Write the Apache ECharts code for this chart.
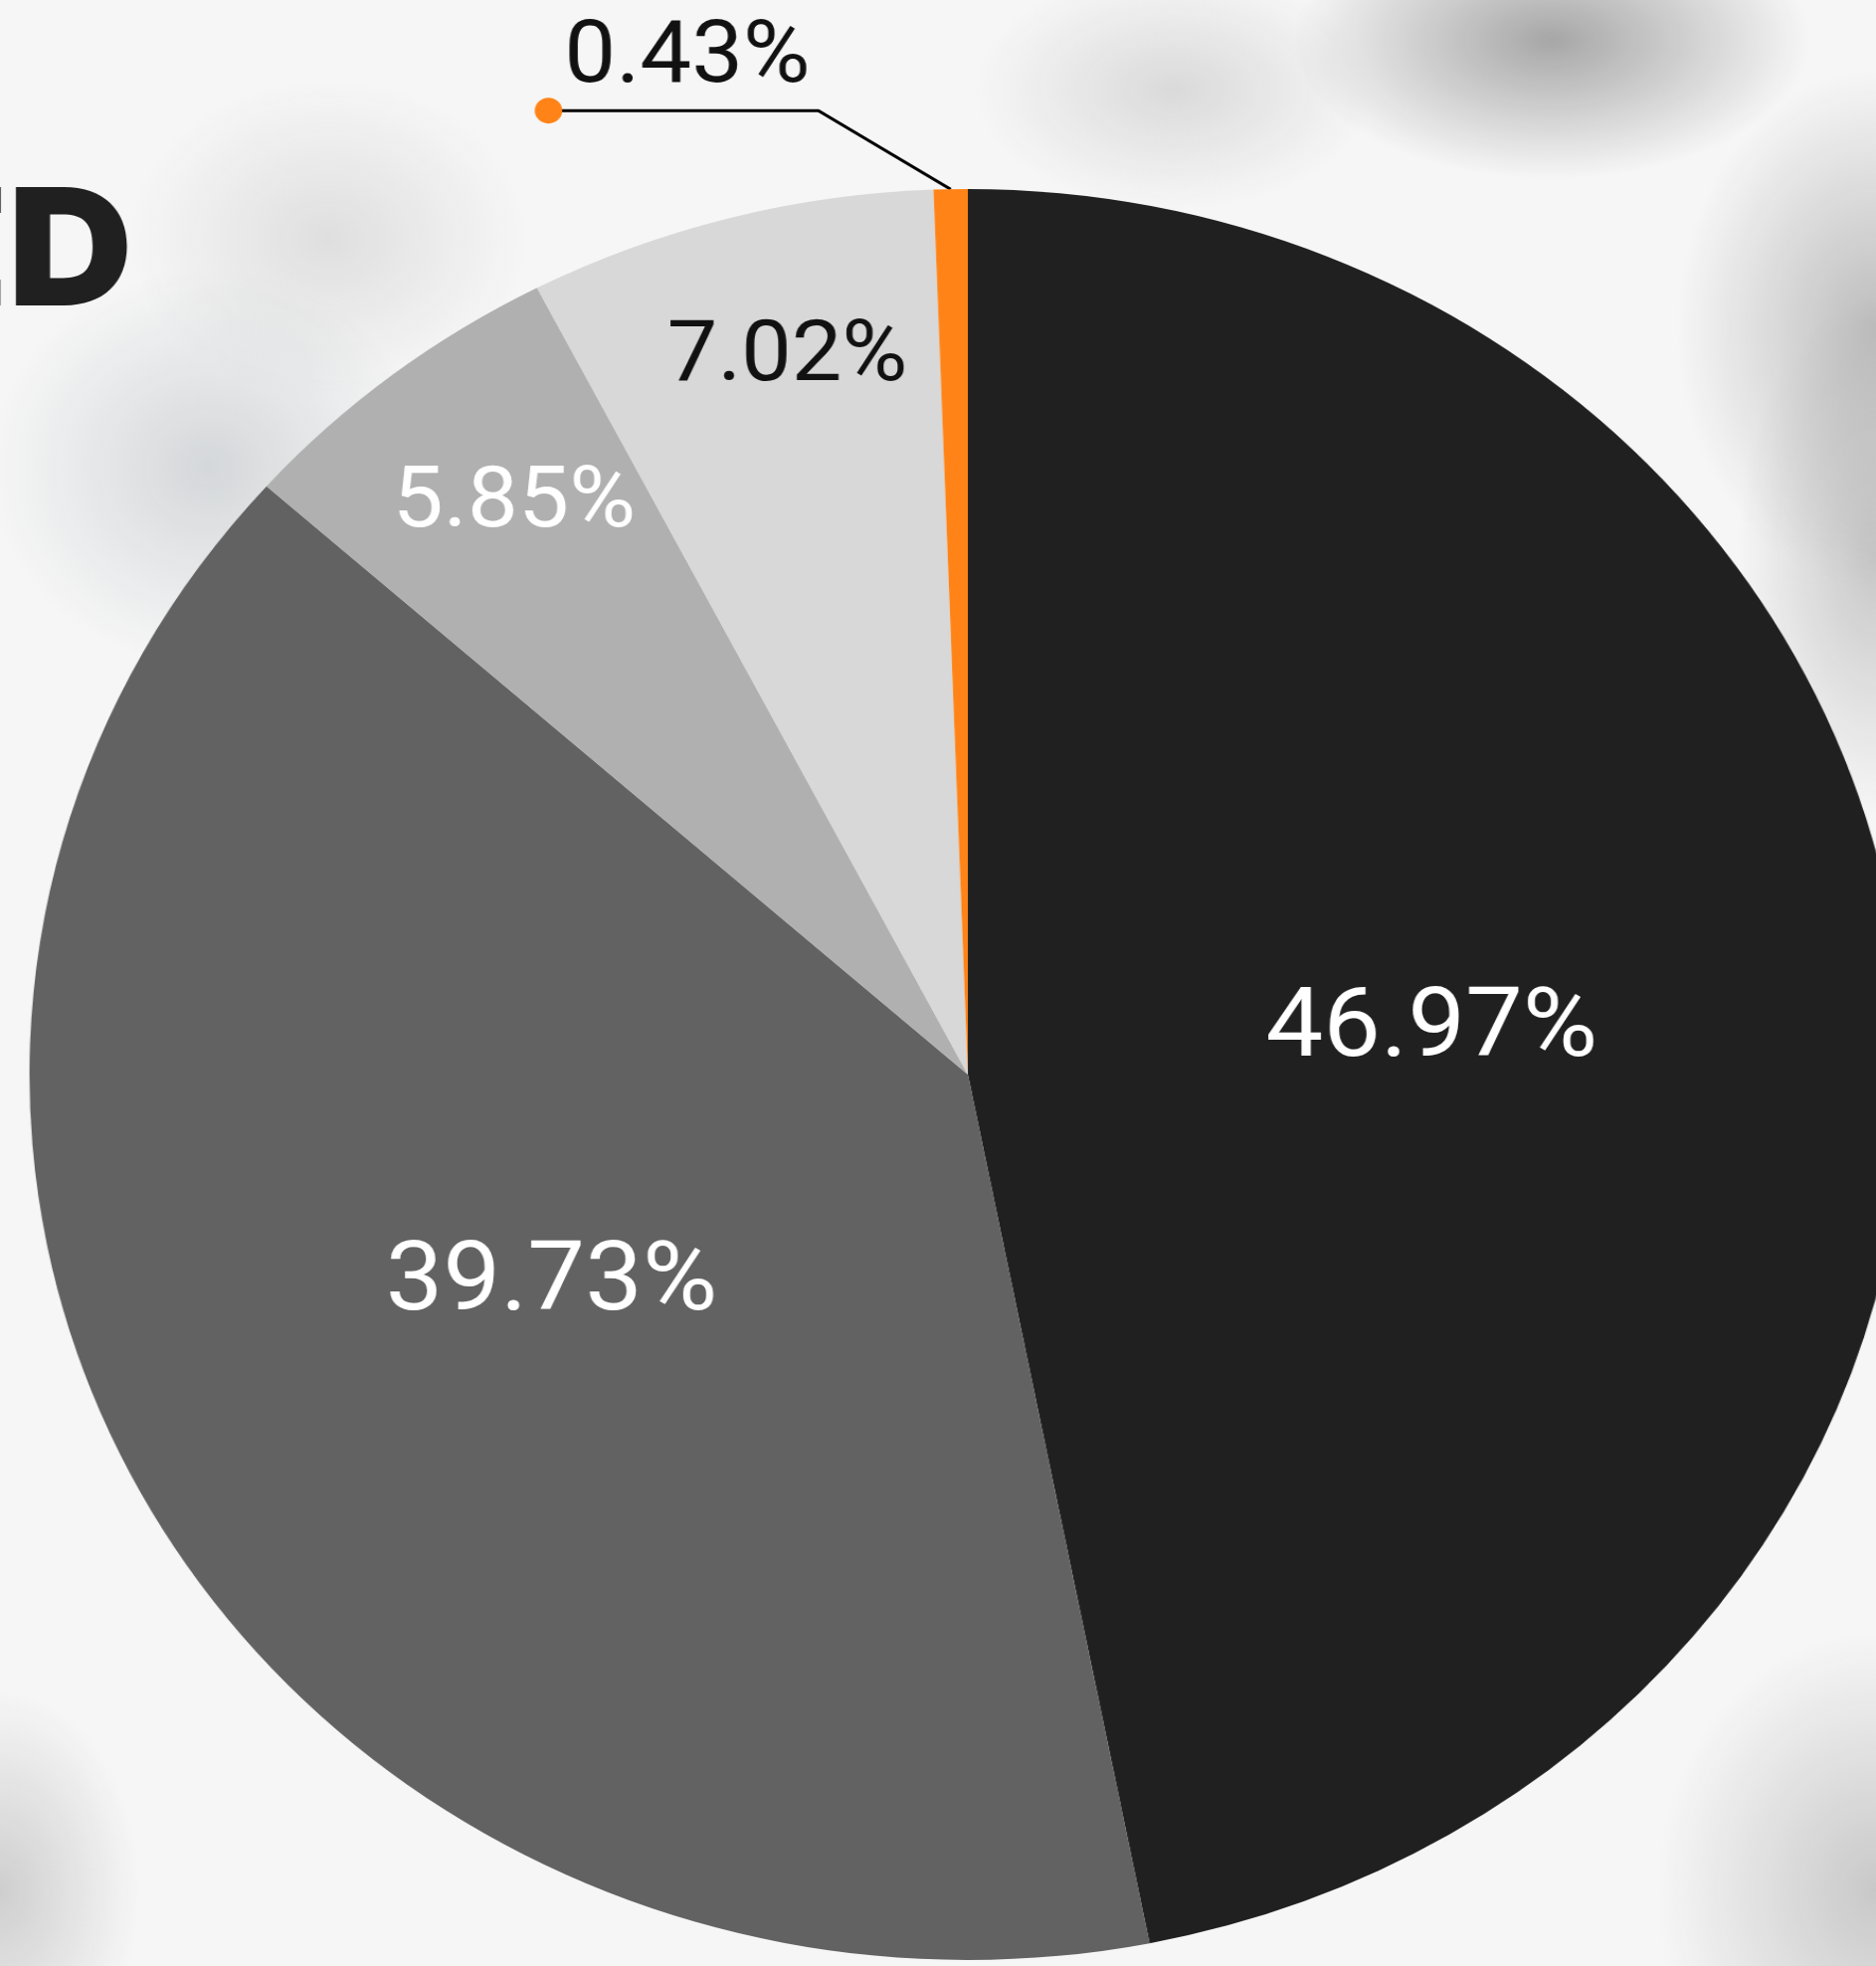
<!DOCTYPE html>
<html>
<head>
<meta charset="utf-8">
<script src="https://cdn.jsdelivr.net/npm/echarts@6/dist/echarts.min.js"></script>
<style>
html, body { margin: 0; padding: 0; width: 1886px; height: 1976px; overflow: hidden; }
body {
  background-color: #f6f6f6;
  background-image:
    radial-gradient(ellipse 260px 140px at 1560px 40px, rgba(140,140,140,0.75), rgba(140,140,140,0) 100%),
    radial-gradient(ellipse 200px 120px at 1180px 90px, rgba(190,190,190,0.5), rgba(190,190,190,0) 100%),
    radial-gradient(ellipse 200px 260px at 1886px 330px, rgba(150,150,150,0.6), rgba(150,150,150,0) 100%),
    radial-gradient(ellipse 140px 260px at 1886px 560px, rgba(160,160,160,0.55), rgba(160,160,160,0) 100%),
    radial-gradient(ellipse 220px 200px at 210px 470px, rgba(185,190,195,0.55), rgba(185,190,195,0) 100%),
    radial-gradient(ellipse 200px 160px at 330px 240px, rgba(200,200,200,0.5), rgba(200,200,200,0) 100%),
    radial-gradient(ellipse 220px 260px at 1886px 1900px, rgba(170,170,170,0.6), rgba(170,170,170,0) 100%),
    radial-gradient(ellipse 140px 200px at 0px 1900px, rgba(180,180,180,0.6), rgba(180,180,180,0) 100%);
}
#chart {
  position: absolute; left: 0; top: 0; width: 1886px; height: 1976px;
  transform: scaleX(1.06); transform-origin: 973px 0;
}
</style>
</head>
<body>
<div id="chart"></div>
<script>
// ---- data ----
const sliceNames   = ['Slice A', 'Slice B', 'Slice C', 'Slice D', 'Slice E'];
const sliceValues  = [46.97, 39.73, 5.85, 7.02, 0.43];
const sliceColors  = ['#202020', '#626262', '#b0b0b0', '#d8d8d8', '#ff8316'];
const labelColors  = ['#ffffff', '#ffffff', '#ffffff', '#111111', '#111111'];
const innerLabelIdx = [0, 1];     // labels at half radius
const ringLabelIdxA = [2];        // label near the rim (ring A)
const ringLabelIdxB = [3];        // label near the rim (ring B)
const outsideLabelIdx = [4];      // label outside with leader line
const titleText = 'ED';

// ---- layout / style ----
const CX = 973, CY = 1080, R = 890;
const FONT = 'Roboto, "Noto Sans", sans-serif';
const TITLE_FONT = 'Inter, Roboto, sans-serif';
const labelFontSizes = [97, 97, 86, 85, 87];
const labelNudge = { 0: [-6, 0], 1: [-6, -11], 2: [11, -4], 3: [19, 5] };

const fmt = p => p.value.toFixed(2) + '%';

const mainData = sliceNames.map((n, i) => {
  const item = { name: n, value: sliceValues[i], itemStyle: { color: sliceColors[i] } };
  if (innerLabelIdx.includes(i)) {
    item.label = { show: true, position: 'inside', color: labelColors[i], fontSize: labelFontSizes[i] };
  } else if (outsideLabelIdx.includes(i)) {
    item.label = {
      show: true, position: 'outside',
      formatter: p => '{v|' + fmt(p) + '}\n{dot|}',
      rich: {
        v: { fontSize: labelFontSizes[i], fontFamily: FONT, color: labelColors[i], lineHeight: 76, padding: [0, 0, 0, 28] },
        dot: { width: 26, height: 26, borderRadius: 13, backgroundColor: sliceColors[i], lineHeight: 26 }
      }
    };
    item.labelLine = { show: true, length: 79, length2: 380, smooth: false,
      lineStyle: { color: '#000000', width: 3 } };
  } else {
    item.label = { show: false };
  }
  return item;
});

function ringData(idx) {
  return sliceNames.map((n, i) => ({
    name: n, value: sliceValues[i],
    itemStyle: { color: 'rgba(0,0,0,0)' },
    label: idx.includes(i)
      ? { show: true, position: 'inside', color: labelColors[i], fontSize: labelFontSizes[i] }
      : { show: false }
  }));
}

function nudgeLayout(params) {
  const n = labelNudge[params.dataIndex];
  if (!n) return;
  return { dx: n[0], dy: n[1] };
}

const common = {
  type: 'pie', center: [CX, CY], startAngle: 90, clockwise: true, minAngle: 2.1,
  avoidLabelOverlap: false, silent: true,
  label: { fontFamily: FONT, fontSize: 97, formatter: fmt },
  labelLine: { show: false }
};

const chart = echarts.init(document.getElementById('chart'), null, { renderer: 'canvas' });
chart.setOption({
  animation: false,
  backgroundColor: 'transparent',
  title: {
    text: titleText,
    left: -38, top: 176, padding: 0,
    textStyle: { fontFamily: TITLE_FONT, fontSize: 164, fontWeight: 900, color: '#202020' }
  },
  series: [
    Object.assign({}, common, {
      radius: [0, R],
      labelLayout: function (params) {
        if (!outsideLabelIdx.includes(params.dataIndex) || !params.labelLinePoints) {
          return nudgeLayout(params);
        }
        const pts = params.labelLinePoints.map(p => p.slice());
        pts[1][0] -= 124;
        return {
          x: pts[2][0] - 13, y: pts[2][1] + 13,
          align: 'left', verticalAlign: 'bottom',
          labelLinePoints: pts
        };
      },
      data: mainData
    }),
    Object.assign({}, common, { radius: [Math.round(R * 0.61), R], labelLayout: nudgeLayout, data: ringData(ringLabelIdxA) }),
    Object.assign({}, common, { radius: [Math.round(R * 0.675), R], labelLayout: nudgeLayout, data: ringData(ringLabelIdxB) })
  ]
});
</script>
</body>
</html>
